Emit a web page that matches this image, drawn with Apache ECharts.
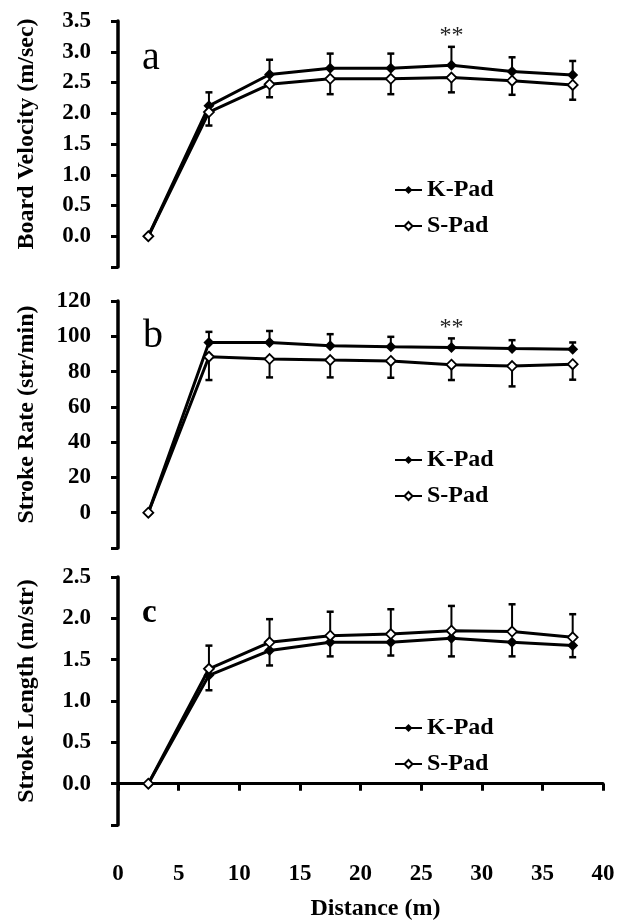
<!DOCTYPE html>
<html>
<head>
<meta charset="utf-8">
<script src="https://cdn.jsdelivr.net/npm/echarts@6/dist/echarts.min.js"></script>
<style>html,body{margin:0;padding:0;background:#fff}#chart{width:628px;height:924px}</style>
</head>
<body>
<div id="chart"></div>
<script>
var distance = [2.5, 7.5, 12.5, 17.5, 22.5, 27.5, 32.5, 37.5];
// a - board velocity (m/sec)
var velK = [0, 2.12, 2.63, 2.73, 2.73, 2.78, 2.68, 2.62];
var velKsd = [0, 0.22, 0.24, 0.24, 0.24, 0.30, 0.23, 0.23];
var velS = [0, 2.02, 2.47, 2.56, 2.56, 2.58, 2.53, 2.46];
var velSsd = [0, 0.22, 0.21, 0.25, 0.25, 0.24, 0.23, 0.24];
// b - stroke rate (str/min)
var rateK = [0, 96.5, 96.5, 94.6, 94.1, 93.7, 93.1, 92.6];
var rateKsd = [0, 6.0, 6.5, 6.6, 5.6, 5.1, 4.7, 3.9];
var rateS = [0, 88.4, 87.1, 86.5, 86.0, 83.9, 83.1, 84.2];
var rateSsd = [0, 13.2, 10.4, 9.8, 9.5, 8.7, 11.5, 8.8];
// c - stroke length (m/str)
var lenK = [0, 1.31, 1.61, 1.71, 1.71, 1.76, 1.71, 1.67];
var lenKsd = [0, 0.18, 0.18, 0.17, 0.16, 0.22, 0.17, 0.14];
var lenS = [0, 1.39, 1.71, 1.79, 1.81, 1.85, 1.84, 1.77];
var lenSsd = [0, 0.28, 0.28, 0.29, 0.30, 0.30, 0.33, 0.28];
// significance marks (above K-Pad)
var sigA = ['', '', '', '', '', '**', '', ''];
var sigB = ['', '', '', '', '', '**', '', ''];

var FONT = '"Liberation Serif", "Times New Roman", serif';

var chart = echarts.init(document.getElementById('chart'));

function errBars(idx, means, sds, dir, marks) {
	return {
		type: 'custom', xAxisIndex: idx, yAxisIndex: idx, z: 1, silent: true,
		data: distance.map(function(d, i){ return [d, means[i], sds[i]]; }),
		renderItem: function(params, api){
			var sd = api.value(2);
			if (!sd) return;
			var x = api.value(0), m = api.value(1);
			var p0 = api.coord([x, m]), p1 = api.coord([x, m + dir * sd]);
			var kids = [
				{type: 'line', shape: {x1: p0[0], y1: p0[1], x2: p1[0], y2: p1[1]}, style: {stroke: '#000', lineWidth: 2}},
				{type: 'line', shape: {x1: p1[0] - 3.5, y1: p1[1], x2: p1[0] + 3.5, y2: p1[1]}, style: {stroke: '#000', lineWidth: 2.5}}
			];
			var mk = marks ? marks[params.dataIndex] : '';
			if (mk) {
				kids.push({type: 'text', x: p1[0], y: p1[1] + 1, style: {text: mk, fill: '#222', font: '24px ' + FONT, align: 'center', verticalAlign: 'bottom'}});
			}
			return {type: 'group', children: kids};
		}
	};
}

function lineSer(idx, name, vals, filled) {
	return {
		type: 'line', name: name, xAxisIndex: idx, yAxisIndex: idx, z: filled ? 3 : 4,
		data: distance.map(function(d, i){ return [d, vals[i]]; }),
		symbol: 'diamond', symbolSize: filled ? 11 : 10, showAllSymbol: true,
		lineStyle: {color: '#000', width: 3},
		itemStyle: {color: filled ? '#000' : '#fff', borderColor: '#000', borderWidth: filled ? 0 : 1.8}
	};
}

function yAx(idx, min, max, step, digits, name) {
	return {
		type: 'value', gridIndex: idx, min: min, max: max, interval: step,
		name: name, nameLocation: 'middle', nameGap: 79,
		nameTextStyle: {fontFamily: FONT, fontWeight: 'bold', fontSize: 24, color: '#000', padding: [0, 0, 0, 20]},
		axisLine: {show: true, lineStyle: {color: '#000', width: 3.5}},
		axisTick: {show: true, length: 7, lineStyle: {color: '#000', width: 3}},
		axisLabel: {margin: 27, fontFamily: FONT, fontWeight: 'bold', fontSize: 23, color: '#000',
			formatter: function(v){ return v < 0 ? '' : v.toFixed(digits); }},
		splitLine: {show: false}
	};
}

function legendAt(top) {
	return {
		data: ['K-Pad', 'S-Pad'], orient: 'vertical', left: 394, top: top, padding: 0,
		itemWidth: 27, itemHeight: 10, itemGap: 12, selectedMode: false,
		textStyle: {fontFamily: FONT, fontWeight: 'bold', fontSize: 24, color: '#000', lineHeight: 24}
	};
}

function letter(t, left, top, size, weight) {
	return {text: t, left: left, top: top, padding: 0,
		textStyle: {fontFamily: FONT, fontWeight: weight, fontSize: size, color: '#000'}};
}

var option = {
	animation: false,
	backgroundColor: '#fff',
	title: [
		letter('a', 142, 38, 40, 'normal'),
		letter('b', 143, 316, 40, 'normal'),
		letter('c', 142, 597, 33, 'bold')
	],
	legend: [legendAt(178), legendAt(448), legendAt(716)],
	grid: [
		{left: 118, right: 25, top: 21, height: 246},
		{left: 118, right: 25, top: 301, height: 247},
		{left: 118, right: 25, top: 577, height: 248}
	],
	xAxis: [
		{type: 'value', gridIndex: 0, min: 0, max: 40, show: false},
		{type: 'value', gridIndex: 1, min: 0, max: 40, show: false},
		{type: 'value', gridIndex: 2, min: 0, max: 40, interval: 5, offset: 12,
			name: 'Distance (m)', nameLocation: 'middle', nameGap: 60,
			nameTextStyle: {fontFamily: FONT, fontWeight: 'bold', fontSize: 24, color: '#000', padding: [0, 0, 0, 30]},
			axisLine: {lineStyle: {color: '#000', width: 3}},
			axisTick: {length: 7, lineStyle: {color: '#000', width: 3}},
			axisLabel: {margin: 26, fontFamily: FONT, fontWeight: 'bold', fontSize: 23, color: '#000'},
			splitLine: {show: false}}
	],
	yAxis: [
		yAx(0, -0.5, 3.5, 0.5, 1, 'Board Velocity (m/sec)'),
		yAx(1, -20, 120, 20, 0, 'Stroke Rate (str/min)'),
		yAx(2, -0.5, 2.5, 0.5, 1, 'Stroke Length (m/str)')
	],
	series: [
		errBars(0, velK, velKsd, 1, sigA),
		errBars(0, velS, velSsd, -1),
		lineSer(0, 'K-Pad', velK, true),
		lineSer(0, 'S-Pad', velS, false),
		errBars(1, rateK, rateKsd, 1, sigB),
		errBars(1, rateS, rateSsd, -1),
		lineSer(1, 'K-Pad', rateK, true),
		lineSer(1, 'S-Pad', rateS, false),
		errBars(2, lenK, lenKsd, -1),
		errBars(2, lenS, lenSsd, 1),
		lineSer(2, 'K-Pad', lenK, true),
		lineSer(2, 'S-Pad', lenS, false)
	]
};
chart.setOption(option);
</script>
</body>
</html>
